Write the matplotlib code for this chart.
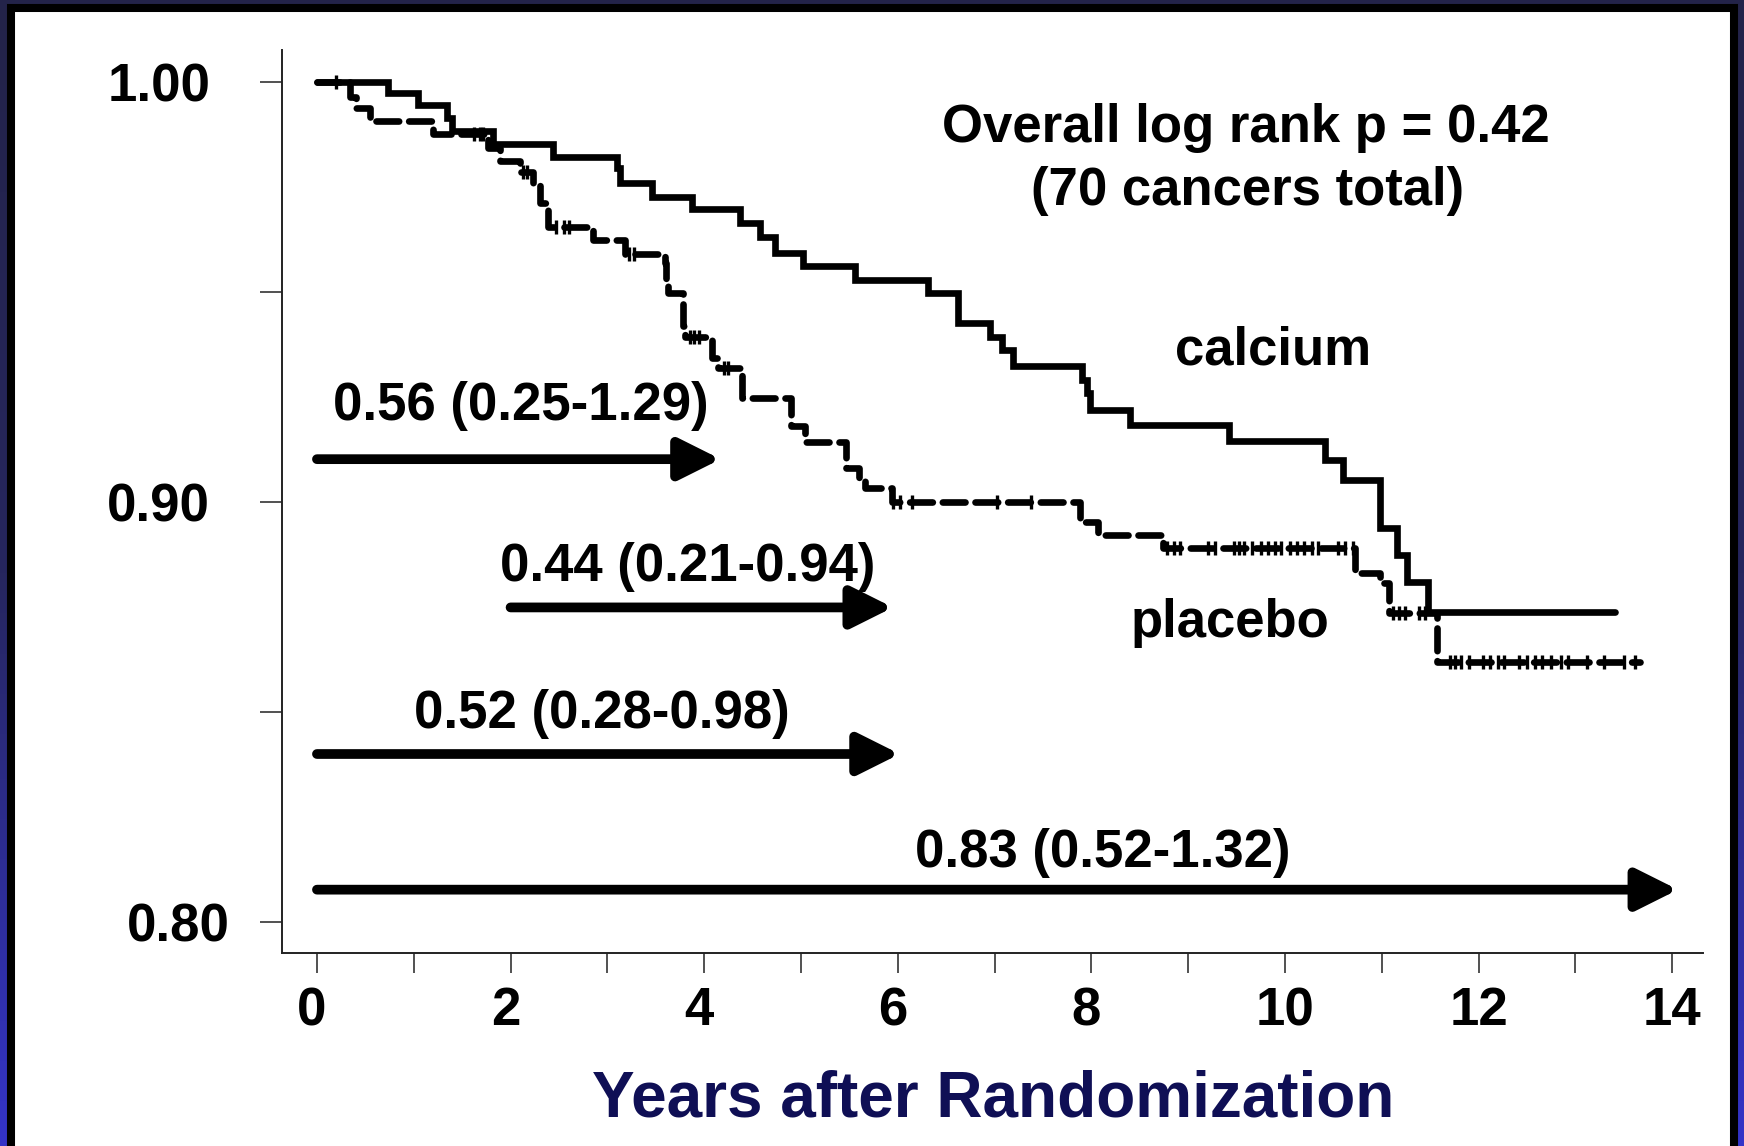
import numpy as np
import matplotlib
matplotlib.use("Agg")
import matplotlib.pyplot as plt
from matplotlib.patches import Rectangle
from matplotlib.colors import LinearSegmentedColormap
from matplotlib.transforms import ScaledTranslation

# -----------------------------
# Data
# -----------------------------
calcium_t = [0.0, 0.737, 1.047, 1.340, 1.391, 1.822, 2.441, 3.096, 3.130, 3.457,
             3.871, 4.370, 4.577, 4.731, 5.024, 5.558, 6.315, 6.625, 6.953, 7.073,
             7.193, 7.899, 7.951, 7.985, 8.399, 9.420, 10.413, 10.603, 10.981,
             11.154, 11.257, 11.481, 13.41]
calcium_s = [1.0, 0.9973, 0.9945, 0.9914, 0.9884, 0.9852, 0.9821, 0.9795, 0.9759, 0.9727,
             0.9697, 0.9664, 0.9632, 0.9594, 0.9562, 0.9529, 0.9497, 0.9427, 0.9394, 0.9362,
             0.9324, 0.9291, 0.9259, 0.9219, 0.9183, 0.9146, 0.9100, 0.9052, 0.8937,
             0.8874, 0.8810, 0.8739, 0.8739]

placebo_t = [0.0, 0.34, 0.40, 0.55, 1.20, 1.77, 1.89, 2.10, 2.23, 2.30,
             2.39, 2.85, 3.18, 3.60, 3.61, 3.63, 3.78, 3.80, 4.08, 4.14,
             4.39, 4.90, 5.04, 5.47, 5.60, 5.66, 5.94, 7.88, 8.07, 8.74,
             10.72, 10.98, 11.07, 11.57, 13.67]
placebo_s = [1.0, 0.9965, 0.9937, 0.9906, 0.9876, 0.9843, 0.9813, 0.9786, 0.9755, 0.9713,
             0.9655, 0.9624, 0.9590, 0.9569, 0.9525, 0.9497, 0.9418, 0.9394, 0.9343, 0.9318,
             0.9247, 0.9180, 0.9144, 0.9081, 0.9057, 0.9033, 0.9001, 0.8953, 0.8921, 0.8890,
             0.8831, 0.8807, 0.8736, 0.8619, 0.8619]

# censoring marks on the placebo curve
placebo_censor = [0.20, 1.62, 1.68, 1.72, 2.13, 2.17, 2.47, 2.55, 2.60, 3.22, 3.27,
                  3.85, 3.90, 3.95, 4.20, 4.25, 5.95, 6.02, 6.15, 7.03, 7.38,
                  8.78, 8.85, 8.92, 9.20, 9.28, 9.47, 9.52, 9.58, 9.66, 9.75, 9.82,
                  9.90, 9.96, 10.05, 10.12, 10.20, 10.28, 10.34, 10.55, 10.62, 10.70,
                  11.12, 11.18, 11.24, 11.38, 11.45, 11.70, 11.76, 11.82, 11.90,
                  12.05, 12.12, 12.20, 12.26, 12.42, 12.50, 12.58, 12.66, 12.75,
                  12.85, 12.92, 13.12, 13.30, 13.50, 13.62]

# hazard ratios for the time windows (years)
hr_labels = ["0.56 (0.25-1.29)", "0.44 (0.21-0.94)", "0.52 (0.28-0.98)", "0.83 (0.52-1.32)"]
hr_start = [0, 2, 0, 0]
hr_end = [4.17, 5.95, 6.02, 14.06]

x_ticks = list(range(0, 15))
x_ticklabels = [str(v) if v % 2 == 0 else "" for v in x_ticks]
y_ticks = [0.80, 0.85, 0.90, 0.95, 1.00]
y_ticklabels = ["0.80", "", "0.90", "", "1.00"]

# -----------------------------
# Layout (positions of arrows / labels)
# -----------------------------
arrow_y = [0.9102, 0.8749, 0.8400, 0.8077]
label_xy = [(2.11, 0.9195), (3.83, 0.8813), (2.94, 0.8461), (8.12, 0.8130)]

FONT = "Liberation Sans"
FS = 38

fig = plt.figure(figsize=(17.44, 11.46), dpi=100)

# -----------------------------
# Slide-like background
# -----------------------------
bg = fig.add_axes([0, 0, 1, 1], zorder=-10)
bg.axis("off")
cmap = LinearSegmentedColormap.from_list("frame", ["#232349", "#26265e", "#3434c8"])
grad = np.linspace(0, 1, 256).reshape(-1, 1)
bg.imshow(grad, cmap=cmap, aspect="auto", extent=[0, 1, 0, 1], origin="upper")
bg.add_patch(Rectangle((11 / 1744, -0.02), (1734 - 11) / 1744, 1.02 - 8 / 1146,
                       transform=bg.transAxes, facecolor="white",
                       edgecolor="black", linewidth=5.8))
bg.set_xlim(0, 1)
bg.set_ylim(0, 1)

# -----------------------------
# Main axes
# -----------------------------
ax = fig.add_axes([282.4 / 1744, (1146 - 953) / 1146, (1703 - 282.4) / 1744, (953 - 50) / 1146])
ax.set_facecolor("none")
ax.set_xlim(-0.357, 14.318)
ax.set_ylim(0.79262, 1.00762)

ax.step(calcium_t, calcium_s, where="post", color="black", lw=4.8,
        solid_capstyle="round", solid_joinstyle="miter", zorder=3)
ax.step(placebo_t, placebo_s, where="post", color="black", lw=4.8,
        linestyle=(0, (3.4, 1.5)), dash_capstyle="round", zorder=3)

# censor marks sit on the placebo curve
idx = np.searchsorted(placebo_t, placebo_censor, side="right") - 1
censor_y = np.array(placebo_s)[idx]
ax.plot(placebo_censor, censor_y, linestyle="none", marker="|", markersize=10,
        markeredgewidth=2.4, color="black", zorder=4)

# hazard ratio arrows
for x0, x1, yv, lab, (tx, ty) in zip(hr_start, hr_end, arrow_y, hr_labels, label_xy):
    ax.annotate("", xy=(x1, yv), xytext=(x0, yv),
                arrowprops=dict(arrowstyle="-|>,head_length=25,head_width=12.5",
                                mutation_scale=1, lw=7, color="black",
                                shrinkA=0, shrinkB=0, capstyle="round",
                                joinstyle="round"))
    ax.text(tx, ty, lab, ha="center", va="baseline", fontsize=FS,
            fontweight="bold", family=FONT)

ax.text(9.60, 0.98562, "Overall log rank p = 0.42", ha="center", va="baseline",
        fontsize=FS, fontweight="bold", family=FONT)
ax.text(9.61, 0.97071, "(70 cancers total)", ha="center", va="baseline",
        fontsize=FS, fontweight="bold", family=FONT)
ax.text(9.876, 0.93267, "calcium", ha="center", va="baseline",
        fontsize=FS, fontweight="bold", family=FONT)
ax.text(9.433, 0.86793, "placebo", ha="center", va="baseline",
        fontsize=FS, fontweight="bold", family=FONT)

# -----------------------------
# Axes styling
# -----------------------------
for side in ["top", "right"]:
    ax.spines[side].set_visible(False)
for side in ["left", "bottom"]:
    ax.spines[side].set_linewidth(1.4)
    ax.spines[side].set_color("#222222")

ax.set_xticks(x_ticks)
ax.set_xticklabels(x_ticklabels, fontsize=FS, fontweight="bold", family=FONT)
ax.set_yticks(y_ticks)
ax.set_yticklabels(y_ticklabels, fontsize=FS, fontweight="bold", family=FONT)
ax.tick_params(axis="x", length=14.5, width=1.1, pad=9.5, color="#222222")
ax.tick_params(axis="y", length=16, width=1.1, pad=36, color="#222222")

# single-digit year labels sit a little left of their ticks in the original
for lab in ax.get_xticklabels():
    if len(lab.get_text()) == 1:
        lab.set_transform(lab.get_transform() + ScaledTranslation(-0.05, 0, fig.dpi_scale_trans))

# the 0.80 label sits further right in the original
lab080 = ax.get_yticklabels()[0]
lab080.set_transform(lab080.get_transform() + ScaledTranslation(0.2, 0, fig.dpi_scale_trans))

ax.set_xlabel("Years after Randomization", fontsize=46, fontweight="bold",
              family=FONT, color="#0f0f55", labelpad=24)

fig.savefig("out.png", dpi=100)
